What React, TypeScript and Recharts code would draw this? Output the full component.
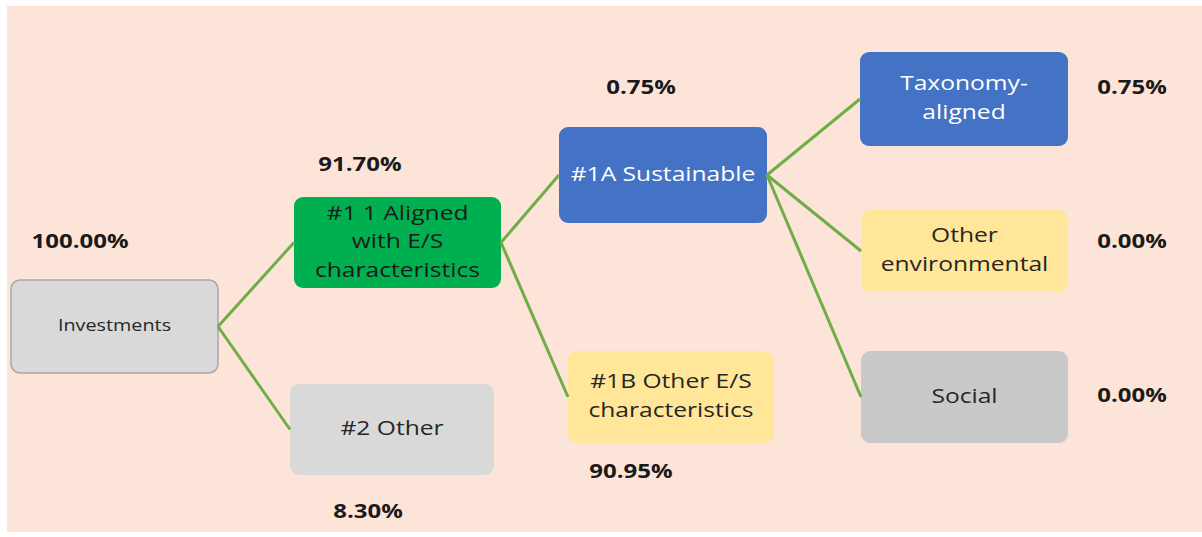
import { ScatterChart, Scatter, XAxis, YAxis, ReferenceArea, ReferenceLine } from 'recharts';

// Tree nodes: label lines, share of investments, parent index
const nodeLines = [
  ['Investments'],
  ['#1 1 Aligned', 'with E/S', 'characteristics'],
  ['#2 Other'],
  ['#1A Sustainable'],
  ['#1B Other E/S', 'characteristics'],
  ['Taxonomy-', 'aligned'],
  ['Other', 'environmental'],
  ['Social'],
];
const shares = [100.0, 91.7, 8.3, 0.75, 90.95, 0.75, 0.0, 0.0];
const parentOf = [-1, 0, 0, 1, 1, 3, 3, 3];

// Layout in chart units (x 0..1202, y 0..537 top-down)
const boxLeft = [11, 294, 290, 559, 568, 860, 861, 861];
const boxRight = [218, 501, 494, 767, 774, 1068, 1068, 1068];
const boxTop = [280, 197, 384, 127, 351, 52, 210, 351];
const boxBottom = [373, 288, 475, 223, 443, 146, 292, 443];
const labelX = [80, 360, 368, 641, 631, 1132, 1132, 1132];
const labelY = [241, 164, 511, 87, 471, 87, 241, 395];

const boxFill = ['#D9D9D9', '#00B050', '#D9D9D9', '#4472C4', '#FFE699', '#4472C4', '#FFE699', '#C9C9C9'];
const textFill = ['#262626', '#1a1a1a', '#262626', '#FFFFFF', '#262626', '#FFFFFF', '#262626', '#262626'];
const lineColor = '#70AD47';
const FONT = '"Open Sans", sans-serif';
const STRETCH = 1.2;

const labelData = shares.map((s, i) => ({ x: labelX[i], y: labelY[i], label: `${s.toFixed(2)}%` }));

const edges = parentOf
  .map((p, i) => ({ p, i }))
  .filter(e => e.p >= 0)
  .map(({ p, i }) => ({
    from: { x: boxRight[p], y: (boxTop[p] + boxBottom[p]) / 2 },
    to: { x: boxLeft[i], y: (boxTop[i] + boxBottom[i]) / 2 },
  }));

function NodeBox(props: any) {
  const { x, y, width, height, idx } = props;
  const lines: string[] = nodeLines[idx];
  const fontSize = idx === 0 ? 16.5 : 20.5;
  const pitch = 28.5;
  const cx = x + width / 2;
  const cy = y + height / 2 - 2;
  const start = cy - ((lines.length - 1) * pitch) / 2;
  return (
    <g>
      <rect
        x={x}
        y={y}
        width={width}
        height={height}
        rx={9}
        ry={9}
        fill={boxFill[idx]}
        stroke={idx === 0 ? '#A6A6A6' : 'none'}
        strokeWidth={1.5}
      />
      {lines.map((t, k) => (
        <text
          key={k}
          x={0}
          y={0}
          transform={`translate(${cx} ${start + k * pitch}) scale(${STRETCH} 1)`}
          textAnchor="middle"
          dominantBaseline="central"
          fontFamily={FONT}
          fontSize={fontSize}
          fill={textFill[idx]}
        >
          {t}
        </text>
      ))}
    </g>
  );
}

function PctLabel(props: any) {
  const { cx, cy, payload } = props;
  return (
    <text
      x={0}
      y={0}
      transform={`translate(${cx} ${cy - 1}) scale(${STRETCH} 1)`}
      textAnchor="middle"
      dominantBaseline="central"
      fontFamily={FONT}
      fontWeight={700}
      fontSize={20}
      fill="#1a1a1a"
    >
      {payload.label}
    </text>
  );
}

export default function App() {
  return (
    <div style={{ position: 'absolute', left: 0, top: 0, width: 1202, height: 537, background: '#FFFFFF' }}>
      <ScatterChart width={1202} height={537} margin={{ top: 0, right: 0, bottom: 0, left: 0 }}>
        <XAxis type="number" dataKey="x" domain={[0, 1202]} hide />
        <YAxis type="number" dataKey="y" domain={[0, 537]} reversed hide />
        <ReferenceArea x1={7} x2={1202} y1={6} y2={532} fill="#FCE5D8" fillOpacity={1} stroke="none" />
        {edges.map((e, k) => (
          <ReferenceLine key={`e-${k}`} segment={[e.from, e.to]} stroke={lineColor} strokeWidth={3} />
        ))}
        {nodeLines.map((_, i) => (
          <ReferenceArea
            key={`n-${i}`}
            x1={boxLeft[i]}
            x2={boxRight[i]}
            y1={boxTop[i]}
            y2={boxBottom[i]}
            shape={(p: any) => <NodeBox {...p} idx={i} />}
          />
        ))}
        <Scatter data={labelData} isAnimationActive={false} shape={(p: any) => <PctLabel {...p} />} />
      </ScatterChart>
    </div>
  );
}
